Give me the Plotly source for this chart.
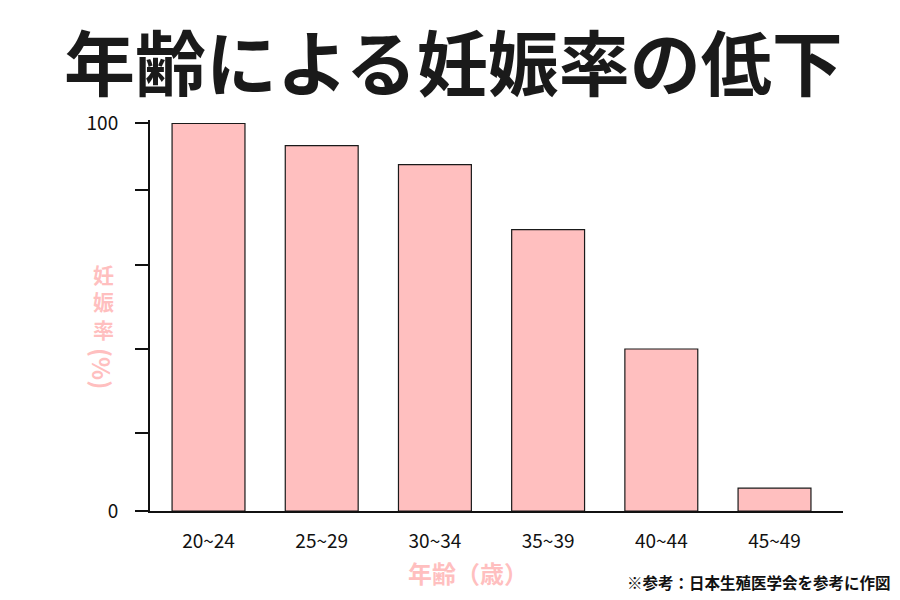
import plotly.graph_objects as go

# data
age_groups = ['20~24', '25~29', '30~34', '35~39', '40~44', '45~49']
pregnancy_rate = [100, 94.3, 89.4, 72.6, 41.8, 5.9]
y_tick_vals = [0, 20.2, 41.7, 63.4, 82.8, 100]
y_tick_text = ['0', '', '', '', '', '100']

JP = 'Noto Sans CJK JP'
PINK = '#FFBFBF'

# the page body adds an 8px margin, so work in page pixels and subtract it
OFF = 8
L, R, T, B = 150 - OFF, 843 - OFF, 120 - OFF, 511 - OFF
W, H = 900 - OFF, 600 - OFF

def px(x, y):
    x, y = x - OFF, y - OFF
    return (x - L) / (R - L), (B - y) / (B - T)

fig = go.Figure(go.Bar(
    x=age_groups, y=pregnancy_rate,
    marker=dict(color=PINK, line=dict(color='#1a1a1a', width=1.2)),
))

fig.update_layout(
    width=W, height=H, autosize=False,
    margin=dict(l=L, r=W - R, t=T, b=H - B),
    plot_bgcolor='white', paper_bgcolor='white',
    bargap=0.356, showlegend=False,
    font=dict(family=JP, color='#111111'),
)
fig.update_xaxes(
    range=[-0.517, 5.605], showline=True, linecolor='#111111', linewidth=2,
    showgrid=False, ticks='', tickfont=dict(size=19, color='#111111'),
    ticklabelstandoff=12,
)
fig.update_yaxes(
    range=[0, 100.9], showline=True, linecolor='#111111', linewidth=2,
    showgrid=False, zeroline=False, ticks='outside', ticklen=13, tickwidth=2,
    tickcolor='#111111', tickvals=y_tick_vals, ticktext=y_tick_text,
    tickfont=dict(size=19, color='#111111'), ticklabelstandoff=13,
)

def note(text, x, y, size, color, anchor='center', angle=0):
    ax, ay = px(x, y)
    fig.add_annotation(
        text=text, x=ax, y=ay, xref='paper', yref='paper', showarrow=False,
        xanchor=anchor, yanchor='middle', textangle=angle, borderpad=0,
        font=dict(family=JP, size=size, color=color, weight='bold'),
    )

note('年齢による妊娠率の低下', 453, 59, 71, '#1a1a1a')
note('妊<br>娠<br>率', 103, 301, 21, PINK)
note('(%)', 103, 368, 24, PINK, angle=90)
note('年齢（歳）', 468, 572, 24, PINK)
note('※参考：日本生殖医学会を参考に作図', 892, 582, 15.5, '#111111', anchor='right')

fig.write_html('out.html')
